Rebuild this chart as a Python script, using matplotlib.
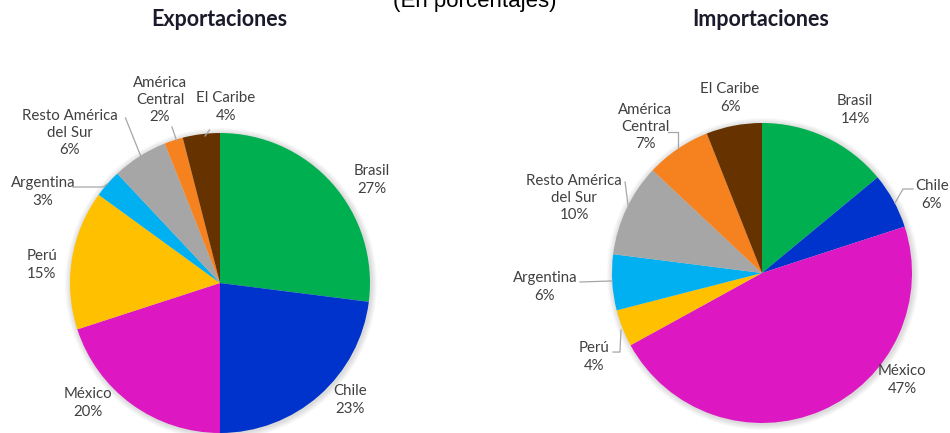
import matplotlib
matplotlib.use("Agg")
import matplotlib.pyplot as plt
from matplotlib.patches import Circle

# ---------------- data ----------------
categories = ["Brasil", "Chile", "México", "Perú", "Argentina",
              "Resto América\ndel Sur", "América\nCentral", "El Caribe"]
exportaciones = [27, 23, 20, 15, 3, 6, 2, 4]
importaciones = [14, 6, 47, 4, 6, 10, 7, 6]
colors = ["#00B050", "#0033CC", "#DD17C2", "#FFC000", "#00B0F0",
          "#A6A6A6", "#F5821F", "#663300"]

subtitle = "(En porcentajes)"
titles = ["Exportaciones", "Importaciones"]

# ---------------- layout (pixel space, y up) ----------------
W, H = 950, 433
centers = [(220, 150), (762, 160)]
radius = 150
title_pos = [(219, 413), (761, 413)]

# label positions in radius units relative to pie centre
label_pos = [
    [(1.013, 0.687), (0.867, -0.78), (-0.88, -0.80), (-1.187, 0.12),
     (-1.18, 0.607), (-1.0, 1.0), (-0.4, 1.22), (0.04, 1.173)],
    [(0.62, 1.087), (1.133, 0.52), (0.933, -0.713), (-1.12, -0.56),
     (-1.447, -0.093), (-1.253, 0.5), (-0.78, 0.973), (-0.213, 1.167)],
]
# leader lines in radius units (polylines)
leaders = [
    [[(-0.98, 0.64), (-0.78, 0.64), (-0.75, 0.66)],
     [(-0.63, 1.10), (-0.53, 0.85)],
     [(-0.32, 1.04), (-0.29, 0.95)],
     [(-0.07, 1.02), (-0.10, 0.98)]],
    [[(1.007, 0.56), (0.94, 0.56), (0.887, 0.467)],
     [(-0.627, 0.94), (-0.56, 0.94), (-0.56, 0.833)],
     [(-0.913, 0.607), (-0.893, 0.453)],
     [(-1.213, -0.06), (-1.0, -0.053)],
     [(-0.993, -0.527), (-0.947, -0.527), (-0.94, -0.38)]],
]

fig = plt.figure(figsize=(W / 100, H / 100), dpi=100)
ax = fig.add_axes([0, 0, 1, 1])

label_font = dict(family=["Lato", "DejaVu Sans"], fontsize=10.8, color="#404040",
                  ha="center", va="center", linespacing=1.3)

for i, vals in enumerate([exportaciones, importaciones]):
    cx, cy = centers[i]
    # soft shadow
    for k in range(6):
        ax.add_patch(Circle((cx + 1, cy - 1), radius + 1 + k, color="black",
                            alpha=0.025, lw=0, zorder=0))
    ax.pie(vals, colors=colors, startangle=90, counterclock=False,
           center=(cx, cy), radius=radius,
           wedgeprops=dict(linewidth=0), frame=False)
    for j, cat in enumerate(categories):
        lx, ly = label_pos[i][j]
        ax.text(cx + lx * radius, cy + ly * radius,
                f"{cat}\n{vals[j]}%", **label_font)
    for line in leaders[i]:
        xs = [cx + p[0] * radius for p in line]
        ys = [cy + p[1] * radius for p in line]
        ax.plot(xs, ys, color="#A6A6A6", lw=0.9, zorder=5)
    tx, ty = title_pos[i]
    ax.text(tx, ty, titles[i], family=["Lato", "DejaVu Sans"], fontsize=15.5,
            fontweight="bold", color="#1a1a2a", ha="center", va="center")

ax.text(475, 426, subtitle, family=["Liberation Sans", "DejaVu Sans"],
        fontsize=16, color="black", ha="center", va="baseline")

ax.set_xlim(0, W)
ax.set_ylim(0, H)
ax.set_aspect("equal", adjustable="box")
ax.axis("off")

fig.savefig("out.png", dpi=100)
